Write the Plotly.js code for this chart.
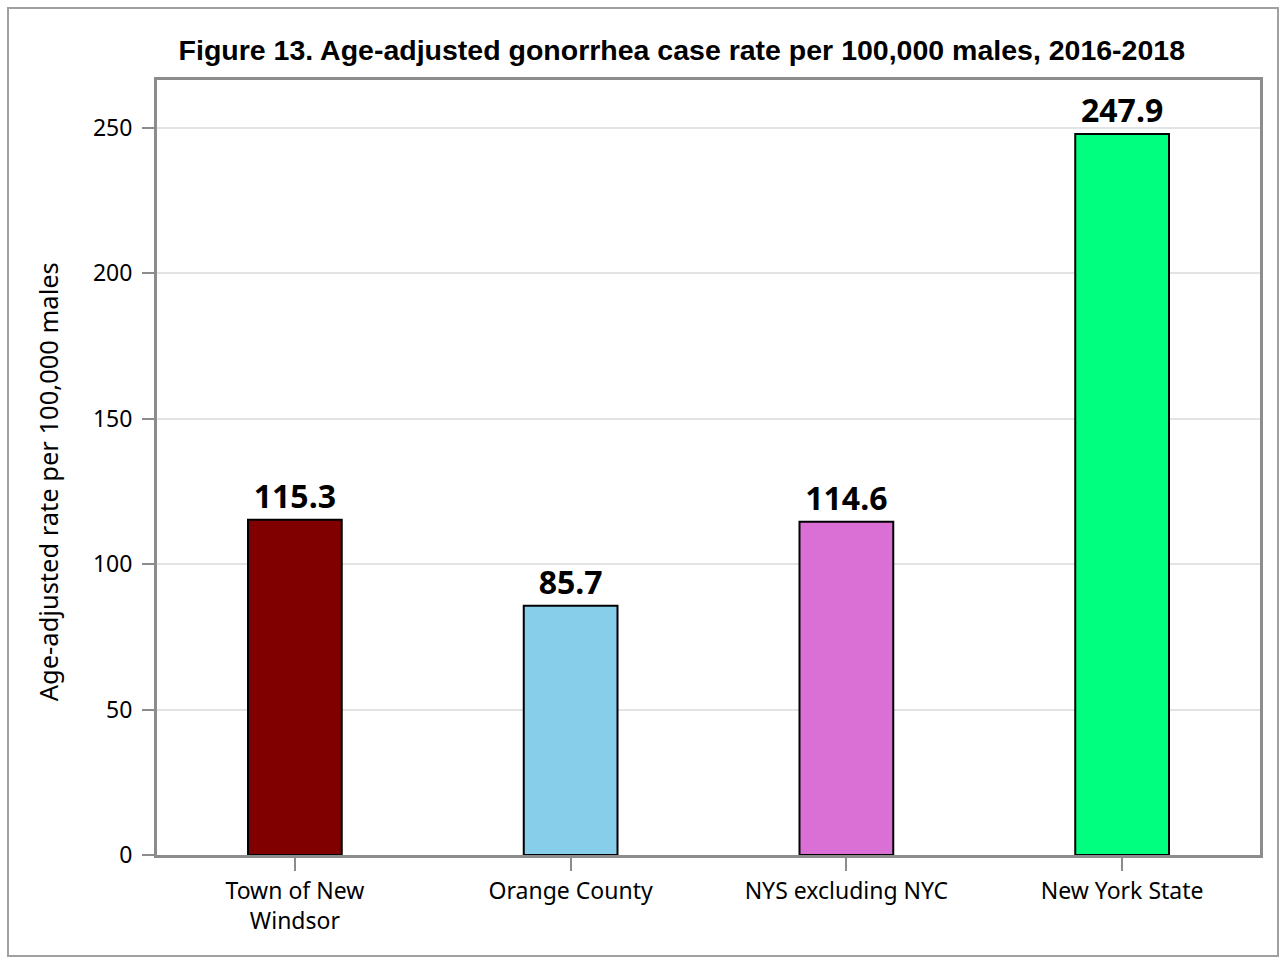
<!DOCTYPE html>
<html>
<head>
<meta charset="utf-8">
<script src="https://cdn.plot.ly/plotly-3.0.1.min.js"></script>
<style>
  html, body { margin: 0; padding: 0; background: #fff; }
  #frame { position: absolute; left: 7px; top: 7px; width: 1268px; height: 946px; border: 2px solid #a0a0a0; }
  #chart { position: absolute; left: 0; top: 0; width: 1284px; height: 960px; }
</style>
</head>
<body>
<div id="frame"></div>
<div id="chart"></div>
<script>
const categories = ["Town of New<br>Windsor", "Orange County", "NYS excluding NYC", "New York State"];
const values = [115.3, 85.7, 114.6, 247.9];
const barColors = ["#800000", "#87ceeb", "#da70d6", "#00ff7f"];
const tickVals = [0, 50, 100, 150, 200, 250];
const yTitle = "Age-adjusted rate per 100,000 males";

const trace = {
  type: "bar",
  x: categories,
  y: values,
  text: values.map(v => v.toFixed(1)),
  textposition: "outside",
  cliponaxis: false,
  textfont: { family: "Noto Sans, Open Sans, sans-serif", size: 32, color: "#000", weight: "bold" },
  marker: { color: barColors, line: { color: "#000", width: 2 } },
  hoverinfo: "none"
};

const layout = {
  width: 1284, height: 960,
  paper_bgcolor: "rgba(0,0,0,0)",
  plot_bgcolor: "#fff",
  margin: { l: 157, r: 24, t: 80, b: 105 },
  bargap: 0.66,
  showlegend: false,
  title: {
    text: "<b>Figure 13. Age-adjusted gonorrhea case rate per 100,000 males, 2016-2018</b>",
    font: { family: "Liberation Sans, Arial, sans-serif", size: 28.5, color: "#000" },
    x: 0.531, xanchor: "center", xref: "container", y: 0.948, yanchor: "middle"
  },
  xaxis: {
    type: "category",
    showline: true, linecolor: "#8c8c8c", linewidth: 3, mirror: true,
    ticks: "outside", ticklen: 13, tickwidth: 2, tickcolor: "#8c8c8c",
    tickfont: { family: "Noto Sans, Open Sans, sans-serif", size: 23, color: "#000" },
    showgrid: false, zeroline: false
  },
  yaxis: {
    range: [0, 266.5],
    tickvals: tickVals,
    showline: true, linecolor: "#8c8c8c", linewidth: 3, mirror: true,
    ticks: "outside", ticklen: 12, tickwidth: 2, tickcolor: "#8c8c8c",
    ticklabelstandoff: 5,
    tickfont: { family: "Noto Sans, Open Sans, sans-serif", size: 23, color: "#000" },
    showgrid: true, gridcolor: "#e3e3e3", gridwidth: 2, zeroline: false
  },
  annotations: [{
    text: yTitle, textangle: -90, showarrow: false,
    xref: "paper", yref: "paper", x: -0.0988, y: 0.481,
    xanchor: "center", yanchor: "middle",
    font: { family: "Noto Sans, Open Sans, sans-serif", size: 25.5, color: "#000" }
  }]
};

Plotly.newPlot("chart", [trace], layout, { displayModeBar: false, staticPlot: true });
</script>
</body>
</html>
